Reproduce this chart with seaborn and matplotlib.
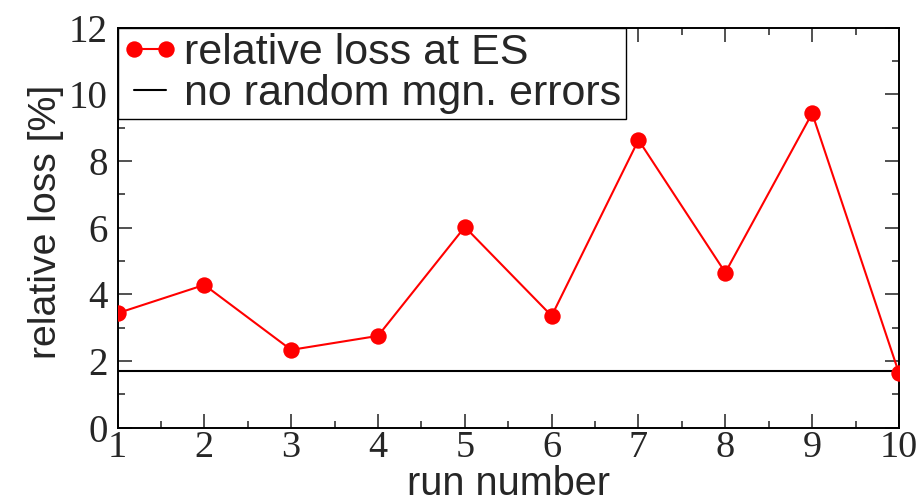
import matplotlib
matplotlib.use("Agg")
import matplotlib.pyplot as plt
from matplotlib.lines import Line2D
from matplotlib.legend_handler import HandlerLine2D
from matplotlib.ticker import MultipleLocator
import pandas as pd
import seaborn as sns

# Relative beam loss at extraction septum for each simulation run
run_number = [1, 2, 3, 4, 5, 6, 7, 8, 9, 10]
relative_loss = [3.43, 4.28, 2.33, 2.75, 6.02, 3.35, 8.63, 4.65, 9.43, 1.63]
# Reference loss without random magnet errors
no_error_loss = 1.71

x_ticks = [1, 2, 3, 4, 5, 6, 7, 8, 9, 10]
y_ticks = [0, 2, 4, 6, 8, 10, 12]

series_label = "relative loss at ES"
reference_label = "no random mgn. errors"

sns.set_theme(style="ticks")
plt.rcParams["font.family"] = ["Liberation Sans", "DejaVu Sans"]

W, H = 923, 503
fig = plt.figure(figsize=(W / 100, H / 100), dpi=100)
left, right, top, bottom = 117.5, 899.0, 27.7, 427.5
ax = fig.add_axes([left / W, 1 - bottom / H, (right - left) / W, (bottom - top) / H])

df = pd.DataFrame({"run": run_number, "loss": relative_loss})
sns.lineplot(data=df, x="run", y="loss", ax=ax, color="red", linewidth=1.5,
             marker="o", markersize=11.8, markeredgewidth=0,
             label=series_label, zorder=3)
ax.axhline(no_error_loss, color="black", linewidth=1.5, zorder=2,
           label=reference_label)

ax.set_xlim(1, 10)
ax.set_ylim(0, 12)
ax.set_xticks(x_ticks, labels=[str(t) for t in x_ticks],
              fontfamily="Liberation Serif", fontsize=27.5)
ax.set_yticks(y_ticks, labels=[str(t) for t in y_ticks],
              fontfamily="Liberation Serif", fontsize=28)
ax.xaxis.set_minor_locator(MultipleLocator(0.5))
ax.yaxis.set_minor_locator(MultipleLocator(1))

ax.tick_params(which="both", direction="in", top=True, right=True,
               color="#222222", width=1.1)
ax.tick_params(which="major", length=10)
ax.tick_params(which="minor", length=5)
ax.tick_params(axis="x", which="major", pad=2)
ax.tick_params(axis="y", which="major", pad=7)

for spine in ax.spines.values():
    spine.set_color("black")
    spine.set_linewidth(1.4)

ax.set_xlabel("run number", fontsize=28.5, labelpad=0.2)
ax.set_ylabel("relative loss [%]", fontsize=28.3)
ax.yaxis.set_label_coords(-0.068, 0.514)

leg = ax.legend(loc="upper left", bbox_to_anchor=(0, 1), borderaxespad=0,
                frameon=True, fancybox=False, edgecolor="black", framealpha=1,
                fontsize=31, handlelength=1.27, handletextpad=0.15,
                borderpad=0.12, labelspacing=0.02, numpoints=2,
                handler_map={Line2D: HandlerLine2D(marker_pad=0.26, numpoints=2)})
leg.get_frame().set_linewidth(1.0)
leg.set_zorder(5)

fig.savefig("out.png", dpi=100)
